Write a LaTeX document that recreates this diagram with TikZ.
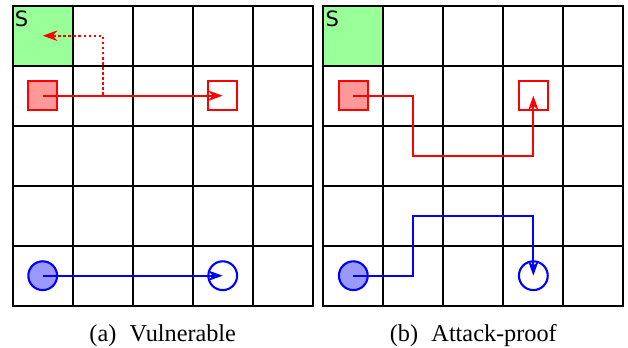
\documentclass[tikz,border=0pt]{standalone}
\usepackage{fontspec}
\setmainfont{Liberation Serif}
\newfontfamily\sfont{DejaVu Sans}
\usetikzlibrary{arrows.meta}
\begin{document}
\begin{tikzpicture}[
  gridline/.style={line width=1pt, line cap=rect},
  startcell/.style={fill=green!40},
  slabel/.style={font=\sfont\fontsize{10}{10}\selectfont, inner sep=0pt, anchor=north west},
  redsrc/.style={draw=red, fill=red!40, line width=1pt, minimum size=0.48cm, inner sep=0pt},
  reddst/.style={draw=red, line width=1pt, minimum size=0.48cm, inner sep=0pt},
  bluesrc/.style={circle, draw=blue, fill=blue!40, line width=1pt, minimum size=0.48cm, inner sep=0pt},
  bluedst/.style={circle, draw=blue, line width=1pt, minimum size=0.48cm, inner sep=0pt},
  arrowtip/.style={-{Stealth[length=7pt,width=5pt]}},
  redpath/.style={color=red, line width=0.85pt, arrowtip},
  reddotted/.style={color=red, line width=0.85pt, dash pattern=on 1.2pt off 1.2pt, arrowtip},
  bluepath/.style={color=blue, line width=0.85pt, arrowtip},
  captext/.style={font=\fontsize{11.5}{13}\selectfont, anchor=base, inner sep=0pt}
]
\useasboundingbox (-0.212,-5.705) rectangle (10.255,0.095);

% ---------- (a) Vulnerable ----------
\begin{scope}
  \fill[startcell] (0,0) rectangle (1,-1);
  \draw[gridline] (0,0) grid (5,-5);
  \node[slabel] (sa) at (0.03,-0.072) {S};
  \node[redsrc] (ra) at (0.5,-1.5) {};
  \node[reddst] (rta) at (3.5,-1.5) {};
  \node[bluesrc] (ba) at (0.5,-4.5) {};
  \node[bluedst] (bta) at (3.5,-4.5) {};
  \coordinate (da1) at (1.5,-1.5);
  \coordinate (da2) at (1.5,-0.5);
  \coordinate (da3) at (0.5,-0.5);
  \draw[reddotted] (ra.center) -- (da1) -- (da2) -- (da3);
  \draw[redpath] (ra.center) -- (rta.center);
  \draw[bluepath] (ba.center) -- (bta.center);
  \node[captext] (capa) at (2.5,-5.6) {(a)\hspace{0.3em} Vulnerable};
\end{scope}

% ---------- (b) Attack-proof ----------
\begin{scope}[xshift=5.177cm]
  \fill[startcell] (0,0) rectangle (1,-1);
  \draw[gridline] (0,0) grid (5,-5);
  \node[slabel] (sb) at (0.03,-0.072) {S};
  \node[redsrc] (rb) at (0.5,-1.5) {};
  \node[reddst] (rtb) at (3.5,-1.5) {};
  \node[bluesrc] (bb) at (0.5,-4.5) {};
  \node[bluedst] (btb) at (3.5,-4.5) {};
  \coordinate (rb1) at (1.5,-1.5);
  \coordinate (rb2) at (1.5,-2.5);
  \coordinate (rb3) at (3.5,-2.5);
  \draw[redpath] (rb.center) -- (rb1) -- (rb2) -- (rb3) -- (rtb.center);
  \coordinate (bb1) at (1.5,-4.5);
  \coordinate (bb2) at (1.5,-3.5);
  \coordinate (bb3) at (3.5,-3.5);
  \draw[bluepath] (bb.center) -- (bb1) -- (bb2) -- (bb3) -- (btb.center);
  \node[captext] (capb) at (2.5,-5.6) {(b)\hspace{0.3em} Attack-proof};
\end{scope}
\end{tikzpicture}
\end{document}
